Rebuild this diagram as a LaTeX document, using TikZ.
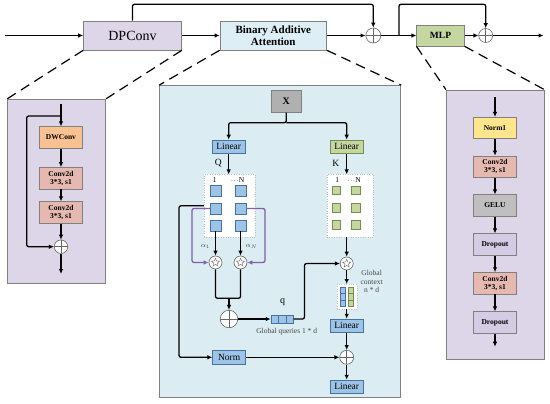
\documentclass[tikz,border=0pt]{standalone}
\usepackage{fontspec}
\setmainfont{Liberation Serif}
\usetikzlibrary{shapes.geometric, arrows.meta}

\definecolor{lav}{RGB}{221,214,232}
\definecolor{droplav}{RGB}{212,203,228}
\definecolor{attblue}{RGB}{219,236,243}
\definecolor{baablue}{RGB}{221,238,246}
\definecolor{boxline}{RGB}{128,128,128}
\definecolor{qblue}{RGB}{157,195,230}
\definecolor{qbluedark}{RGB}{70,114,160}
\definecolor{kgreen}{RGB}{197,214,160}
\definecolor{kgreendark}{RGB}{118,140,80}
\definecolor{dwor}{RGB}{248,193,145}
\definecolor{convpink}{RGB}{230,185,176}
\definecolor{normyel}{RGB}{255,230,140}
\definecolor{gelugray}{RGB}{191,191,191}
\definecolor{xgray}{RGB}{176,176,176}
\definecolor{alphapurple}{RGB}{128,96,170}
\definecolor{notegray}{RGB}{70,70,70}

\begin{document}
\begin{tikzpicture}[x=1pt, y=-1pt, >={Latex[length=5pt, width=4.5pt]},
	line/.style={line width=1.3pt, rounded corners=2pt},
	arr/.style={line, ->},
	parr/.style={arr, draw=alphapurple},
	zoomline/.style={line width=1.2pt, dash pattern=on 10pt off 6pt},
	blk/.style={draw=boxline, line width=0.6pt, inner sep=0pt, align=center},
	panel/.style={blk, line width=0.8pt},
	small/.style={blk, minimum width=43pt, minimum height=21.5pt, font=\bfseries\fontsize{7.5}{8.5}\selectfont},
	lin/.style={blk, minimum width=33pt, minimum height=13.3pt, font=\fontsize{9.5}{10}\selectfont, fill=qblue, draw=qbluedark},
	mat/.style={draw=gray!50, dotted, fill=white, inner sep=0pt},
	qcell/.style={draw=qbluedark, line width=0.5pt, fill=qblue, inner sep=0pt, minimum width=10.7pt, minimum height=10.7pt},
	kcell/.style={draw=kgreendark, line width=0.5pt, fill=kgreen, inner sep=0pt, minimum width=8.5pt, minimum height=8.5pt},
	idx/.style={inner sep=0pt, font=\fontsize{7.5}{8}\selectfont},
	note/.style={inner sep=0pt, text=notegray, font=\fontsize{7.5}{8.5}\selectfont},
	plusnode/.style={circle, draw=gray!80!black, line width=0.6pt, fill=white, inner sep=0pt, minimum size=14pt,
		path picture={\draw[gray!80!black, line width=0.6pt] (path picture bounding box.north) -- (path picture bounding box.south)
			(path picture bounding box.west) -- (path picture bounding box.east);}},
	starnode/.style={circle, draw=gray!80!black, line width=0.6pt, fill=white, inner sep=0pt, minimum size=13pt,
		path picture={\node[star, star points=5, star point ratio=2.2, draw=gray!80!black, line width=0.4pt, inner sep=0pt, minimum size=8.5pt]
			at (path picture bounding box.center) {};}}]
	\useasboundingbox (0,0) rectangle (550,404);

	% top row
	\node[blk, fill=lav, minimum width=98pt, minimum height=29pt, font=\fontsize{14}{16}\selectfont] (dpconv) at (132.5,35.5) {DPConv};
	\node[blk, fill=baablue, minimum width=106.7pt, minimum height=29pt, font=\bfseries\fontsize{11}{12.5}\selectfont] (baa) at (273.3,35.5) {Binary Additive\\Attention};
	\node[plusnode, minimum size=15pt] (addA) at (373.3,35.5) {};
	\node[blk, fill=kgreen, minimum width=47.5pt, minimum height=21pt, font=\bfseries\fontsize{9.5}{10}\selectfont] (mlp) at (440.5,35.5) {MLP};
	\node[plusnode] (addB) at (485.7,35.5) {};
	\coordinate (in) at (5,35.5);
	\coordinate (out) at (543.5,35.5);
	\coordinate (br) at (399,35.5);
	\coordinate (topA) at (250,4.3);
	\coordinate (topB) at (440,4.3);

	\draw[arr] (in) -- (dpconv);
	\draw[arr] (dpconv) -- (baa);
	\draw[arr] (baa) -- (addA);
	\draw[arr] (addA) -- (mlp);
	\draw[arr] (mlp) -- (addB);
	\draw[arr] (addB) -- (out);
	\draw[arr] (dpconv.north) |- (topA) -| (addA.north);
	\draw[arr] (br) |- (topB) -| (addB.north);

	% zoomed panels
	\node[panel, fill=lav, minimum width=98pt, minimum height=184pt] (dppanel) at (56.5,191.3) {};
	\node[panel, fill=attblue, minimum width=241.3pt, minimum height=312.3pt] (attpanel) at (280.2,241.7) {};
	\node[panel, fill=lav, minimum width=97.7pt, minimum height=269.3pt] (mlppanel) at (495.2,224.7) {};
	\draw[zoomline] (dpconv.south west) -- (dppanel.north west);
	\draw[zoomline] (dpconv.south east) -- (dppanel.north east);
	\draw[zoomline] (baa.south west) -- (attpanel.north west);
	\draw[zoomline] (baa.south east) -- (attpanel.north east);
	\draw[zoomline] (mlp.south west) -- (mlppanel.north west);
	\draw[zoomline] (mlp.south east) -- (mlppanel.north east);

	% DPConv
	\node[small, fill=dwor] (dw) at (61,137.5) {DWConv};
	\node[small, fill=convpink] (dconv1) at (61,178.3) {Conv2d\\3*3, s1};
	\node[small, fill=convpink] (dconv2) at (61,212.5) {Conv2d\\3*3, s1};
	\node[plusnode, minimum size=13.5pt] (addL) at (61,246.7) {};
	\coordinate (inL) at (61,104);
	\coordinate (brL) at (61,116);
	\coordinate (skL) at (26.7,180);
	\coordinate (outL) at (61,274);
	\draw[arr] (inL) -- (dw);
	\draw[arr] (dw) -- (dconv1);
	\draw[arr] (dconv1) -- (dconv2);
	\draw[arr] (dconv2) -- (addL);
	\draw[arr] (brL) -| (skL) |- (addL);
	\draw[arr] (addL) -- (outL);

	% attention
	\node[blk, fill=xgray, minimum width=29.3pt, minimum height=21.6pt, font=\bfseries\fontsize{10}{11}\selectfont] (xin) at (286.3,101.5) {X};
	\coordinate (spl) at (286.3,122.7);
	\node[lin] (linq) at (228.7,146.7) {Linear};
	\node[lin, fill=kgreen, draw=kgreendark] (link) at (346.7,146.7) {Linear};
	\draw[arr] (xin) -- (spl) -| (linq);
	\draw[arr] (spl) -| (link);
	\node[font=\fontsize{9.5}{10}\selectfont] (qlab) at (218.3,163.3) {Q};
	\node[font=\fontsize{9.5}{10}\selectfont] (klab) at (335.7,163.3) {K};

	\node[mat, minimum width=51pt, minimum height=62.5pt] (qmat) at (229.5,205.75) {};
	\node[mat, minimum width=46.6pt, minimum height=62.5pt] (kmat) at (350,205.75) {};
	\draw[arr] (linq.south) -- (linq.south |- qmat.north);
	\draw[arr] (link.south) -- (link.south |- kmat.north);
	\node[idx] (q1) at (214.7,180) {1};
	\node[idx] (qn) at (237.5,180) {$\cdot\!\cdot\!\cdot$N};
	\node[idx] (k1) at (337.3,180) {1};
	\node[idx] (kn) at (354,180) {$\cdot\!\cdot\!\cdot$N};
	\foreach \c/\x in {1/215.5, 2/240.5}
		\foreach \r/\y in {1/191, 2/208.5, 3/225.5}
			\node[qcell] (qc-\c-\r) at (\x,\y) {};
	\foreach \c/\x in {1/336, 2/355.5}
		\foreach \r/\y in {1/190.5, 2/207.7, 3/225}
			\node[kcell] (kc-\c-\r) at (\x,\y) {};

	\node[starnode] (sq1) at (215.5,262.5) {};
	\node[starnode] (sq2) at (240.5,262.5) {};
	\node[starnode] (sk) at (346.7,263.5) {};
	\draw[arr] (qc-1-3) -- (sq1);
	\draw[arr] (qc-2-3) -- (sq2);
	\node[note] (a1) at (205.5,246) {$\alpha_1$};
	\node[note] (an) at (251.5,246) {$\alpha_N$};
	\coordinate (pl) at (192,240);
	\coordinate (pr) at (265,240);
	\draw[parr] (qc-1-2.west) -| (pl) |- (sq1.west);
	\draw[parr] (qc-2-2.east) -| (pr) |- (sq2.east);

	\node[lin] (norm) at (229.2,357.3) {Norm};
	\coordinate (nl) at (179,300);
	\draw[arr] (qmat.west) -| (nl) |- (norm);

	\coordinate (mrg) at (229,298.3);
	\node[plusnode, minimum size=17.5pt] (addq) at (229,319) {};
	\draw[line] (sq1) |- (mrg);
	\draw[line] (sq2) |- (mrg);
	\draw[arr] (mrg) -- (addq);
	\foreach \i/\x in {1/274.7, 2/282.1, 3/289.6}
		\node[qcell, minimum width=7.4pt, minimum height=8.3pt] (qv\i) at (\x,319) {};
	\draw[arr] (addq) -- (qv1);
	\node[font=\fontsize{10}{11}\selectfont] (qsym) at (282.7,301.7) {q};
	\node[note] (gq) at (286.7,331.7) {Global queries 1 * d};
	\coordinate (qup) at (304.5,290);
	\draw[arr] (qv3) -| (qup) |- (sk);
	\draw[arr] (kmat.south -| sk) -- (sk);

	\node[mat, minimum width=20pt, minimum height=25pt] (ctx) at (346.7,296.7) {};
	\foreach \r/\y in {1/290.4, 2/296.7, 3/302.9}{
		\node[qcell, minimum width=5.3pt, minimum height=6.2pt] (cq\r) at (342.7,\y) {};
		\node[kcell, minimum width=5.3pt, minimum height=6.2pt] (ck\r) at (350.5,\y) {};
	}
	\draw[arr] (sk) -- (ctx);
	\node[note, align=center] (gc) at (371.7,281.7) {Global\\context\\n * d};
	\node[lin] (linc) at (346.7,325.7) {Linear};
	\node[plusnode] (addc) at (346.7,357.3) {};
	\node[lin] (lino) at (346.7,386.7) {Linear};
	\draw[arr] (ctx) -- (linc);
	\draw[arr] (linc) -- (addc);
	\draw[arr] (norm) -- (addc);
	\draw[arr] (addc) -- (lino);

	% MLP
	\coordinate (inR) at (495,97.3);
	\node[small, fill=normyel] (norm1) at (495,128) {Norm1};
	\node[small, fill=convpink] (mconv1) at (495,166.7) {Conv2d\\3*3, s1};
	\node[small, fill=gelugray] (gelu) at (495,205.5) {GELU};
	\node[small, fill=droplav] (drop1) at (495,244.5) {Dropout};
	\node[small, fill=convpink] (mconv2) at (495,283.3) {Conv2d\\3*3, s1};
	\node[small, fill=droplav] (drop2) at (495,322.5) {Dropout};
	\coordinate (outR) at (495,346.7);
	\draw[arr] (inR) -- (norm1);
	\foreach \a/\b in {norm1/mconv1, mconv1/gelu, gelu/drop1, drop1/mconv2, mconv2/drop2}
		\draw[arr] (\a) -- (\b);
	\draw[arr] (drop2) -- (outR);
\end{tikzpicture}
\end{document}
